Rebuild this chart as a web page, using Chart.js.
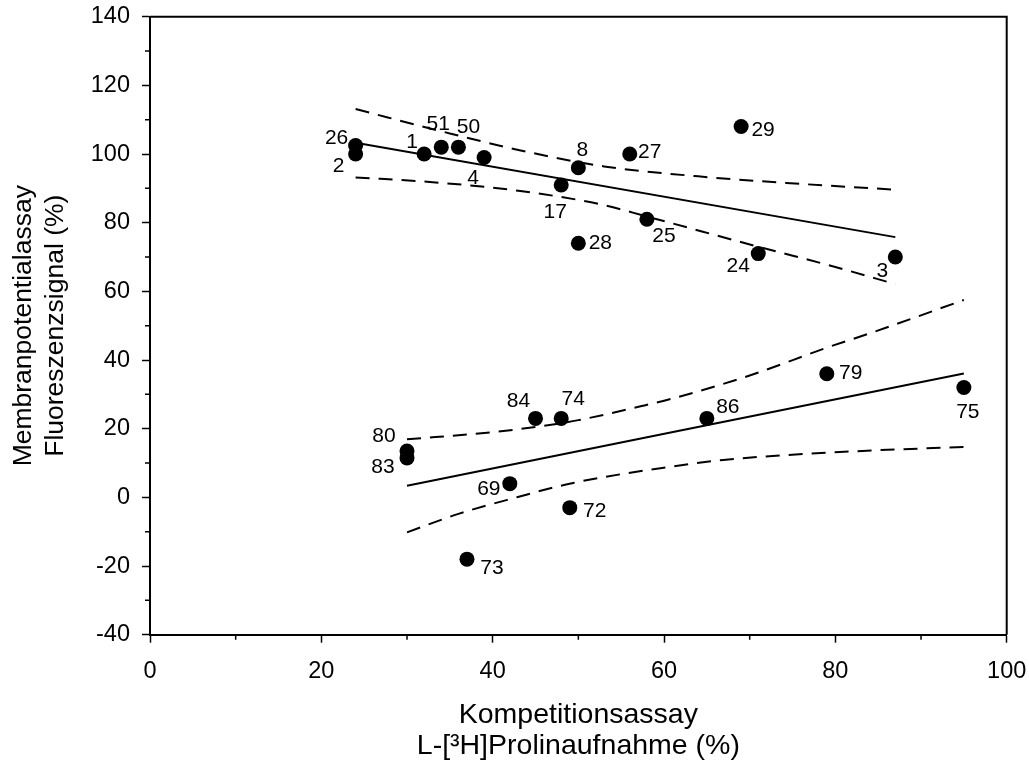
<!DOCTYPE html>
<html>
<head>
<meta charset="utf-8">
<title>Kompetitionsassay vs Membranpotentialassay</title>
<script src="https://cdn.jsdelivr.net/npm/chart.js@4.4.1/dist/chart.umd.min.js"></script>
<style>
    html, body { margin: 0; padding: 0; background: #fff; }
    #chart { display: block; }
</style>
</head>
<body>
<canvas id="chart" width="1029" height="764"></canvas>
<script>
// Gruppe 1 (oben)
const group1Labels = ['26', '2', '1', '51', '50', '4', '17', '8', '27', '25', '28', '29', '24', '3'];
const group1X = [24, 24, 32, 34, 36, 39, 48, 50, 56, 58, 50, 69, 71, 87];
const group1Y = [102.5, 100, 100, 102, 102, 99, 91, 96, 100, 81, 74, 108, 71, 70];

// Gruppe 2 (unten)
const group2Labels = ['80', '83', '84', '74', '69', '72', '73', '86', '79', '75'];
const group2X = [30, 30, 45, 48, 42, 49, 37, 65, 79, 95];
const group2Y = [13.5, 11.5, 23, 23, 4, -3, -18, 23, 36, 32];

// Regressionsgeraden
const fit1X = [24, 87];
const fit1Y = [103.3, 75.8];
const fit2X = [30, 95];
const fit2Y = [3.4, 36.1];

// Konfidenzbänder
const band1UpperX = [24, 35, 43, 53, 64, 76, 87];
const band1UpperY = [113.1, 106, 101.2, 96.4, 93.5, 91.3, 89.6];
const band1LowerX = [24, 33, 43, 52.5, 58, 71, 80, 87];
const band1LowerY = [93.2, 91.8, 89.3, 85.4, 81.8, 73, 67.1, 62.1];
const band2UpperX = [30, 40, 45, 50, 57.4, 61, 70, 79, 84.4, 95];
const band2UpperY = [16.9, 19, 20.5, 22.5, 26.6, 28.8, 35.5, 43.6, 48.1, 57.5];
const band2LowerX = [30, 36, 41.6, 49.4, 60.7, 66.9, 80.5, 95];
const band2LowerY = [-10.2, -4.8, -0.8, 4.2, 8.9, 10.9, 13.2, 14.7];

// Achsen
const xTicks = [0, 20, 40, 60, 80, 100];
const xMinorTicks = [10, 30, 50, 70, 90];
const yTicks = [-40, -20, 0, 20, 40, 60, 80, 100, 120, 140];
const yMinorTicks = [-30, -10, 10, 30, 50, 70, 90, 110, 130];

// Lage der Punktbeschriftungen relativ zum Punkt (px)
const labelOffsets = {
    '26': [-19, -7], '2': [-17, 12], '1': [-12, -12], '51': [-3, -23], '50': [10, -20],
    '4': [-11, 21], '17': [-6, 27], '8': [4, -18], '27': [20, -2], '28': [22, 0],
    '25': [17, 17], '29': [22, 4], '24': [-20, 13], '3': [-13, 14],
    '80': [-23, -15], '83': [-24, 9], '84': [-17, -17], '74': [12, -19], '69': [-21, 6],
    '72': [25, 4], '73': [25, 9], '86': [21, -11], '79': [24, -1], '75': [4, 25]
};

const FONT = "'Liberation Sans', Arial, sans-serif";

function toPoints(xs, ys) {
    return xs.map((x, i) => ({ x: x, y: ys[i] }));
}

function lineDataset(xs, ys, dashed) {
    return {
        data: toPoints(xs, ys),
        showLine: true,
        borderColor: '#000',
        borderWidth: 2,
        borderDash: dashed ? [14, 9] : [],
        pointRadius: 0,
        cubicInterpolationMode: 'monotone',
        fill: false
    };
}

function dotDataset(xs, ys, labels) {
    return {
        data: toPoints(xs, ys),
        pointLabels: labels,
        pointRadius: 7.5,
        pointHoverRadius: 7.5,
        backgroundColor: '#000',
        borderWidth: 0,
        showLine: false
    };
}

// keine zusätzlichen Ränder durch die Achsenbeschriftungen
function noScalePadding(s) {
    s.paddingTop = 0;
    s.paddingBottom = 0;
    s.paddingLeft = 0;
    s.paddingRight = 0;
}

const frameAndLabels = {
    id: 'frameAndLabels',
    afterDraw(chart) {
        const ctx = chart.ctx;
        const area = chart.chartArea;
        const xs = chart.scales.x;
        const ys = chart.scales.y;
        ctx.save();

        // Rahmen oben und rechts
        ctx.strokeStyle = '#000';
        ctx.lineWidth = 2;
        ctx.beginPath();
        ctx.moveTo(area.left, area.top);
        ctx.lineTo(area.right, area.top);
        ctx.lineTo(area.right, area.bottom);
        ctx.stroke();

        // Nebenteilstriche
        ctx.lineWidth = 1.5;
        ctx.beginPath();
        xMinorTicks.forEach(v => {
            const px = xs.getPixelForValue(v);
            ctx.moveTo(px, area.bottom);
            ctx.lineTo(px, area.bottom + 5);
        });
        yMinorTicks.forEach(v => {
            const py = ys.getPixelForValue(v);
            ctx.moveTo(area.left - 5, py);
            ctx.lineTo(area.left, py);
        });
        ctx.stroke();

        // Punktbeschriftungen
        ctx.fillStyle = '#000';
        ctx.font = '21px ' + FONT;
        ctx.textAlign = 'center';
        ctx.textBaseline = 'middle';
        chart.data.datasets.forEach((ds, di) => {
            if (!ds.pointLabels) return;
            const meta = chart.getDatasetMeta(di);
            meta.data.forEach((pt, i) => {
                const label = ds.pointLabels[i];
                const off = labelOffsets[label] || [0, 0];
                ctx.fillText(label, pt.x + off[0], pt.y + off[1]);
            });
        });
        ctx.restore();
    }
};

new Chart(document.getElementById('chart'), {
    type: 'scatter',
    data: {
        datasets: [
            dotDataset(group1X, group1Y, group1Labels),
            dotDataset(group2X, group2Y, group2Labels),
            lineDataset(fit1X, fit1Y, false),
            lineDataset(fit2X, fit2Y, false),
            lineDataset(band1UpperX, band1UpperY, true),
            lineDataset(band1LowerX, band1LowerY, true),
            lineDataset(band2UpperX, band2UpperY, true),
            lineDataset(band2LowerX, band2LowerY, true)
        ]
    },
    options: {
        responsive: false,
        animation: false,
        devicePixelRatio: 1,
        layout: { padding: { top: 16.7, right: 22.3, left: 0, bottom: 0 } },
        plugins: {
            legend: { display: false },
            tooltip: { enabled: false }
        },
        scales: {
            x: {
                type: 'linear',
                min: 0,
                max: 100,
                afterFit: s => { s.height = 129.3; noScalePadding(s); },
                afterBuildTicks: s => { s.ticks = xTicks.map(v => ({ value: v })); },
                border: { display: true, color: '#000', width: 2 },
                grid: { drawOnChartArea: false, drawTicks: true, tickLength: 8, tickWidth: 1.5, tickColor: '#000' },
                ticks: {
                    color: '#000',
                    padding: 15,
                    maxRotation: 0,
                    font: { family: FONT, size: 23.5 }
                },
                title: {
                    display: true,
                    text: ['Kompetitionsassay', 'L-[³H]Prolinaufnahme (%)'],
                    color: '#000',
                    font: { family: FONT, size: 28.5, lineHeight: 1.1 },
                    padding: { top: 0, bottom: 2 }
                }
            },
            y: {
                type: 'linear',
                min: -40,
                max: 140,
                afterFit: s => { s.width = 150; noScalePadding(s); },
                afterBuildTicks: s => { s.ticks = yTicks.map(v => ({ value: v })); },
                border: { display: true, color: '#000', width: 2 },
                grid: { drawOnChartArea: false, drawTicks: true, tickLength: 8, tickWidth: 1.5, tickColor: '#000' },
                ticks: {
                    color: '#000',
                    padding: 12,
                    font: { family: FONT, size: 23.5 }
                },
                title: {
                    display: true,
                    text: ['Membranpotentialassay', 'Fluoreszenzsignal (%)'],
                    color: '#000',
                    font: { family: FONT, size: 26.5, lineHeight: 1.19 },
                    padding: { top: 8.4, bottom: 0 }
                }
            }
        }
    },
    plugins: [frameAndLabels]
});
</script>
</body>
</html>
